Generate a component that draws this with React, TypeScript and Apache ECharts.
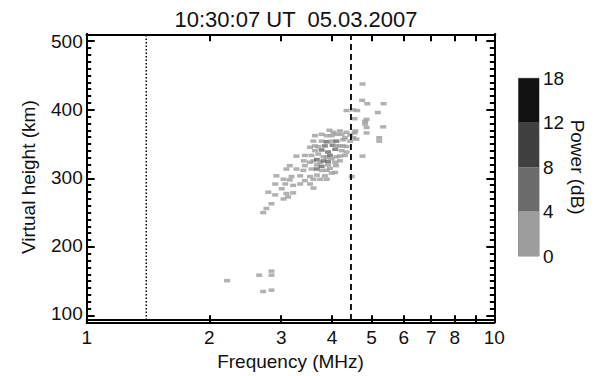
import React, { useEffect, useRef } from "react";
import * as echarts from "echarts";

const titleText = "10:30:07 UT  05.03.2007";
const xTickValues = [2, 3, 4, 5, 6, 7, 8, 9];
const xLabelValues = [1, 2, 3, 4, 5, 6, 7, 8, 10];
const yMajorTicks = [100, 200, 300, 400, 500];
const yMinorTicks = [
  110, 120, 130, 140, 150, 160, 170, 180, 190, 210, 220, 230, 240, 250, 260, 270, 280, 290,
  310, 320, 330, 340, 350, 360, 370, 380, 390, 410, 420, 430, 440, 450, 460, 470, 480, 490,
];
const yRange = [90, 510];
const dottedFreq = 1.4;
const dashedFreq = 4.45;

const powerLevels = [0, 4, 8, 12, 18];
const powerColors = ["#9d9d9d", "#6b6b6b", "#404040", "#121212"];

// [frequency MHz, virtual height km, power dB]
const lowEchoes: number[][] = [
  [2.21, 148, 2], [2.65, 156, 2], [2.84, 162, 2], [2.84, 156, 2], [2.71, 132, 2], [2.84, 134, 2],
];

const traceEchoes: number[][] = [
  [2.71, 248, 2], [2.76, 254, 2], [2.84, 261, 2], [2.79, 278, 2], [2.9, 274, 2], [2.9, 290, 2],
  [3.07, 290, 2], [3.21, 288, 2], [3.04, 268, 2], [3.01, 283, 2], [3.21, 277, 2], [3.09, 276, 2],
  [3.12, 271, 2], [2.92, 302, 2], [3.18, 301, 2], [3.15, 296, 2], [3.04, 297, 2], [3.09, 312, 2],
  [3.27, 312, 2], [3.15, 317, 2], [3.27, 331, 2], [3.34, 302, 2], [3.34, 290, 2], [3.43, 295, 2],
  [3.4, 310, 2], [3.43, 317, 2], [3.43, 332, 2], [3.41, 324, 2], [3.53, 290, 2], [3.6, 284, 2],
  [3.6, 297, 2], [3.53, 301, 2], [3.56, 312, 2], [3.53, 322, 2], [3.56, 332, 2], [3.53, 344, 2],
  [3.6, 324, 2], [3.67, 303, 2], [3.67, 312, 5], [3.67, 318, 2], [3.67, 326, 5], [3.7, 334, 2],
  [3.74, 297, 2], [3.74, 322, 2], [3.77, 310, 2], [3.77, 316, 5], [3.81, 324, 5], [3.81, 330, 2],
  [3.84, 302, 2], [3.88, 297, 2], [3.88, 310, 2], [3.88, 329, 2], [3.91, 318, 2], [3.91, 323, 5],
  [3.95, 313, 2], [3.95, 332, 5], [3.99, 306, 2], [3.99, 327, 2], [4.07, 307, 2], [4.07, 322, 2],
  [4.09, 317, 2], [4.1, 330, 2], [4.18, 324, 2], [4.18, 331, 2], [4.3, 332, 2], [4.47, 301, 2],
  [3.63, 339, 2], [3.63, 346, 2], [3.7, 345, 2], [3.77, 340, 5], [3.84, 346, 5], [3.91, 337, 5],
  [4.01, 347, 5], [4.07, 341, 5], [4.1, 346, 2], [4.18, 346, 2], [4.22, 339, 2], [4.26, 346, 2],
  [4.34, 337, 2], [4.34, 345, 2], [3.6, 353, 2], [3.77, 353, 2], [3.88, 352, 5], [3.99, 353, 2],
  [4.1, 353, 5], [4.26, 355, 2], [4.43, 353, 2], [3.63, 361, 2], [3.77, 363, 2], [3.88, 361, 2],
  [3.99, 361, 2], [4.1, 363, 2], [4.22, 363, 2], [4.3, 358, 2], [4.43, 362, 2], [3.94, 369, 2],
  [4.03, 366, 2], [4.18, 368, 2], [4.34, 366, 2],
];

const upperEchoes: number[][] = [
  [4.51, 358, 2], [4.54, 365, 2], [4.56, 368, 2], [4.59, 356, 2], [4.75, 331, 2], [4.86, 365, 2],
  [4.86, 373, 2], [4.82, 378, 2], [4.82, 382, 2], [4.86, 385, 2], [4.54, 386, 2], [4.34, 398, 2],
  [4.5, 399, 2], [4.61, 398, 2], [5.18, 395, 2], [4.88, 408, 2], [5.35, 408, 2], [4.74, 413, 2],
  [4.75, 437, 2], [5.34, 374, 2], [5.22, 358, 2], [5.22, 353, 2],
];

const FONT = "'Liberation Sans', Arial, Helvetica, sans-serif";
const GRID = { left: 86.7, top: 34.3, width: 407.6, height: 288 };
const lg = (v: number) => Math.log10(v);

function powerColor(p: number): string {
  for (let i = 0; i < powerColors.length; i++) {
    if (p >= powerLevels[i] && p < powerLevels[i + 1]) return powerColors[i];
  }
  return powerColors[powerColors.length - 1];
}

function mainOption() {
  const echoes = [...lowEchoes, ...traceEchoes, ...upperEchoes].map((d) => ({
    value: [lg(d[0]), d[1], d[2]],
    itemStyle: { color: powerColor(d[2]) },
  }));
  const labelStyle = { color: "#111", fontSize: 19, fontFamily: FONT };
  const line = () => ({ show: true, onZero: false, lineStyle: { color: "#000", width: 2 } });
  const colorbarSeries = powerColors.map((c) => ({
    type: "bar",
    xAxisIndex: 2,
    yAxisIndex: 2,
    stack: "cb",
    barWidth: "100%",
    data: [1],
    itemStyle: { color: c },
    silent: true,
  }));
  return {
    animation: false,
    title: {
      text: titleText,
      left: 291,
      top: 3,
      textAlign: "center",
      textStyle: { fontSize: 22, fontWeight: "normal", color: "#111", fontFamily: FONT },
    },
    grid: [
      GRID,
      { left: 518.5, top: 78.3, width: 20.5, height: 177.7, show: true, borderColor: "#888", borderWidth: 1 },
    ],
    xAxis: [
      {
        type: "value", gridIndex: 0, position: "bottom", min: 0, max: 1,
        axisLine: line(), axisTick: { show: false }, splitLine: { show: false },
        axisLabel: {
          ...labelStyle, margin: 8, customValues: xLabelValues.map(lg),
          formatter: (v: number) => String(Math.round(Math.pow(10, v))),
        },
        name: "Frequency (MHz)", nameLocation: "middle", nameGap: 25, nameTextStyle: labelStyle,
      },
      {
        type: "value", gridIndex: 0, position: "top", min: 0, max: 1,
        axisLine: line(), axisTick: { show: false }, splitLine: { show: false }, axisLabel: { show: false },
      },
      { type: "category", gridIndex: 1, data: ["cb"], show: false },
    ],
    yAxis: [
      {
        type: "value", gridIndex: 0, position: "left", min: yRange[0], max: yRange[1], interval: 10,
        axisLine: line(), axisTick: { show: false }, splitLine: { show: false },
        axisLabel: { ...labelStyle, margin: 4, customValues: yMajorTicks },
        name: "Virtual height (km)", nameLocation: "middle", nameGap: 49, nameTextStyle: labelStyle,
      },
      {
        type: "value", gridIndex: 0, position: "right", min: yRange[0], max: yRange[1], interval: 10,
        axisLine: line(), axisTick: { show: false }, splitLine: { show: false }, axisLabel: { show: false },
      },
      {
        type: "value", gridIndex: 1, position: "right", min: 0, max: powerLevels.length - 1, interval: 1,
        axisLine: { show: false, onZero: false }, axisTick: { show: false }, splitLine: { show: false },
        axisLabel: { ...labelStyle, margin: 4, formatter: (v: number) => String(powerLevels[v]) },
        name: "Power (dB)", nameLocation: "middle", nameRotate: -90, nameGap: 24, nameTextStyle: labelStyle,
      },
    ],
    series: [
      { type: "scatter", xAxisIndex: 0, yAxisIndex: 0, symbol: "rect", symbolSize: [6, 3.5], data: echoes, silent: true },
      {
        type: "line", xAxisIndex: 0, yAxisIndex: 0, symbol: "none", silent: true,
        data: [[lg(dottedFreq), yRange[0]], [lg(dottedFreq), yRange[1]]],
        lineStyle: { color: "#000", width: 1.5, type: [1.5, 2] },
      },
      {
        type: "line", xAxisIndex: 0, yAxisIndex: 0, symbol: "none", silent: true,
        data: [[lg(dashedFreq), yRange[0]], [lg(dashedFreq), yRange[1]]],
        lineStyle: { color: "#000", width: 1.8, type: [6, 4] },
      },
      ...colorbarSeries,
    ],
  };
}

// Axis-only overlay that carries the inward tick marks (one axis per side).
function tickOption(yTicks: number[], yLen: number, withX: boolean) {
  const tick = (vals: number[], len: number) => ({
    show: true, inside: true, length: len, lineStyle: { color: "#000", width: 2 }, customValues: vals,
  });
  const xAx = (pos: string) => ({
    type: "value", min: 0, max: 1, position: pos,
    axisLine: { show: withX, onZero: false, lineStyle: { color: "#000", width: 2 } },
    axisTick: withX ? tick(xTickValues.map(lg), 7) : { show: false },
    axisLabel: { show: false },
    splitLine: { lineStyle: { color: "rgba(0,0,0,0)" } },
  });
  const yAx = (pos: string) => ({
    type: "value", min: yRange[0], max: yRange[1], interval: 10, position: pos,
    axisLine: { show: true, onZero: false, lineStyle: { color: "#000", width: 2 } },
    axisTick: tick(yTicks, yLen),
    axisLabel: { show: false },
    splitLine: { lineStyle: { color: "rgba(0,0,0,0)" } },
  });
  return {
    animation: false,
    grid: GRID,
    xAxis: [xAx("bottom"), xAx("top")],
    yAxis: [yAx("left"), yAx("right")],
    series: [{ type: "scatter", data: [], silent: true }],
  };
}

function useChart(ref: React.RefObject<HTMLDivElement | null>, build: () => any) {
  useEffect(() => {
    if (!ref.current) return;
    const chart = echarts.init(ref.current, null, { renderer: "svg" });
    chart.setOption(build());
    return () => chart.dispose();
  }, []);
}

const layer: React.CSSProperties = { position: "fixed", left: 0, top: 0, width: 594, height: 376 };

export default function App() {
  const mainRef = useRef<HTMLDivElement>(null);
  const majorRef = useRef<HTMLDivElement>(null);
  const minorRef = useRef<HTMLDivElement>(null);
  useChart(mainRef, mainOption);
  useChart(majorRef, () => tickOption(yMajorTicks, 8, true));
  useChart(minorRef, () => tickOption(yMinorTicks, 4.5, false));
  return (
    <div>
      <div ref={mainRef} style={{ ...layer, background: "#fff" }} />
      <div ref={majorRef} style={{ ...layer, pointerEvents: "none" }} />
      <div ref={minorRef} style={{ ...layer, pointerEvents: "none" }} />
    </div>
  );
}
